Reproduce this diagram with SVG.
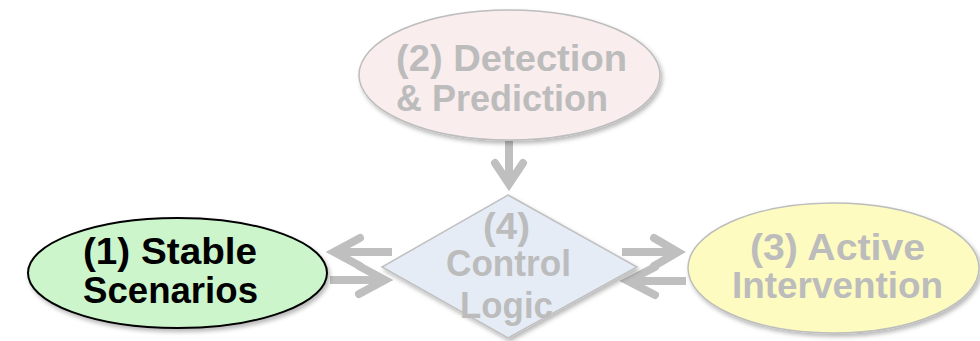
<svg xmlns="http://www.w3.org/2000/svg" width="980" height="341" viewBox="0 0 980 341">
  <defs>
    <filter id="sh" x="-10%" y="-10%" width="125%" height="130%">
      <feDropShadow dx="2" dy="3" stdDeviation="2" flood-color="#000" flood-opacity="0.28"/>
    </filter>
  </defs>
  <style>
    .lbl { font-family: "Liberation Sans", Arial, sans-serif; font-weight: bold; font-size: 37px; }
    .dim { fill: #bcbcbc; }
    .dark { fill: #000; }
    .shaft { fill: none; stroke: #bfbfbf; stroke-width: 8; stroke-linecap: butt; }
    .head { fill: none; stroke: #bfbfbf; stroke-width: 8; stroke-linecap: round; stroke-linejoin: miter; }
  </style>
  <rect width="980" height="341" fill="#ffffff"/>

  <g id="connectors">
    <!-- (2) to (4) -->
    <line class="shaft" x1="509" y1="141" x2="509" y2="184"/>
    <polyline class="head" points="495,163 509,184 523,163"/>
    <!-- (4) to (1) -->
    <line class="shaft" x1="392" y1="252" x2="334" y2="252"/>
    <polyline class="head" points="360,238 334,252 360,266"/>
    <!-- (1) to (4) -->
    <line class="shaft" x1="330" y1="280" x2="385" y2="280"/>
    <polyline class="head" points="359,266 385,280 359,294"/>
    <!-- (4) to (3) -->
    <line class="shaft" x1="622" y1="252" x2="678" y2="252"/>
    <polyline class="head" points="654,238 678,252 654,266"/>
    <!-- (3) to (4) -->
    <line class="shaft" x1="686" y1="281" x2="628" y2="281"/>
    <polyline class="head" points="655,267 628,281 655,295"/>
  </g>

  <g id="node-detection">
    <ellipse cx="509.5" cy="75" rx="150.5" ry="65" fill="#f9eded" stroke="#bdbdbd" stroke-width="1.5" filter="url(#sh)"/>
    <text class="lbl dim" x="396" y="71" textLength="231" lengthAdjust="spacingAndGlyphs">(2) Detection</text>
    <text class="lbl dim" x="396" y="111" textLength="212" lengthAdjust="spacingAndGlyphs">&amp; Prediction</text>
  </g>

  <g id="node-stable">
    <ellipse cx="177.5" cy="273" rx="149.5" ry="55" fill="#ccf5cc" stroke="#000" stroke-width="2" filter="url(#sh)"/>
    <text class="lbl dark" x="83" y="264" textLength="174" lengthAdjust="spacingAndGlyphs">(1) Stable</text>
    <text class="lbl dark" x="83" y="303" textLength="175" lengthAdjust="spacingAndGlyphs">Scenarios</text>
  </g>

  <g id="node-control">
    <polygon points="508,195 637,267 508,338 382,267" fill="#e5ecf6" stroke="#c0c0c0" stroke-width="1.5" filter="url(#sh)"/>
    <text class="lbl dim" x="483" y="239" textLength="47" lengthAdjust="spacingAndGlyphs">(4)</text>
    <text class="lbl dim" x="446" y="276" textLength="125" lengthAdjust="spacingAndGlyphs">Control</text>
    <text class="lbl dim" x="460" y="318" textLength="93" lengthAdjust="spacingAndGlyphs">Logic</text>
  </g>

  <g id="node-active">
    <ellipse cx="833.5" cy="268" rx="145.5" ry="65" fill="#fdfbbf" stroke="#bdbdbd" stroke-width="1.5" filter="url(#sh)"/>
    <text class="lbl dim" x="750" y="260" textLength="175" lengthAdjust="spacingAndGlyphs">(3) Active</text>
    <text class="lbl dim" x="732" y="298" textLength="211" lengthAdjust="spacingAndGlyphs">Intervention</text>
  </g>
</svg>
